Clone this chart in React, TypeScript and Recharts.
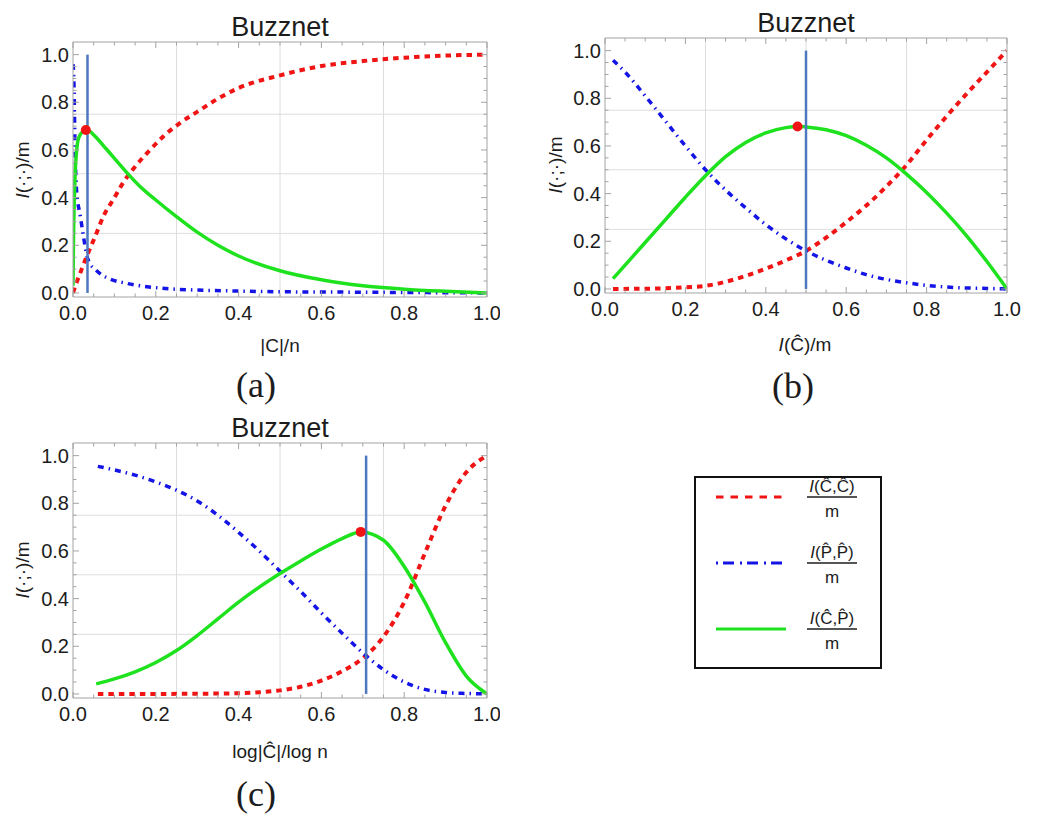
import React from "react";
import { LineChart, Line, XAxis, YAxis, ReferenceLine, ReferenceDot } from "recharts";

// (a) x = |C|/n
const aRedX = [0, 0.01, 0.021, 0.037, 0.053, 0.073, 0.1, 0.12, 0.15, 0.186, 0.22, 0.26, 0.3, 0.35, 0.4, 0.5, 0.6, 0.7, 0.8, 0.9, 1.0];
const aRedY = [0, 0.05, 0.1, 0.17, 0.235, 0.32, 0.4, 0.46, 0.53, 0.6, 0.66, 0.715, 0.76, 0.815, 0.86, 0.913, 0.952, 0.973, 0.987, 0.996, 1.0];
const aBlueX = [0, 0.002, 0.005, 0.009, 0.017, 0.025, 0.033, 0.042, 0.053, 0.07, 0.09, 0.13, 0.2, 0.3, 0.4, 0.5, 0.6, 0.7, 0.8, 0.9, 1.0];
const aBlueY = [0.96, 0.9, 0.6, 0.42, 0.33, 0.24, 0.16, 0.12, 0.1, 0.075, 0.058, 0.04, 0.022, 0.012, 0.008, 0.005, 0.004, 0.003, 0.002, 0.001, 0];
const aGreenX = [0, 0.001, 0.003, 0.005, 0.008, 0.012, 0.018, 0.025, 0.032, 0.045, 0.06, 0.08, 0.1, 0.13, 0.16, 0.2, 0.25, 0.3, 0.35, 0.4, 0.5, 0.6, 0.7, 0.8, 0.9, 1.0];
const aGreenY = [0.03, 0.2, 0.38, 0.5, 0.58, 0.64, 0.665, 0.678, 0.685, 0.672, 0.645, 0.605, 0.565, 0.505, 0.45, 0.39, 0.32, 0.255, 0.2, 0.155, 0.093, 0.055, 0.03, 0.016, 0.007, 0];

// (b) x = I(C^)/m
const bRedX = [0.02, 0.1, 0.15, 0.2, 0.25, 0.3, 0.35, 0.4, 0.45, 0.5, 0.55, 0.6, 0.65, 0.7, 0.75, 0.8, 0.85, 0.9, 0.95, 1.0];
const bRedY = [0, 0.001, 0.003, 0.007, 0.013, 0.03, 0.055, 0.085, 0.12, 0.16, 0.215, 0.28, 0.35, 0.43, 0.52, 0.625, 0.725, 0.82, 0.91, 1.0];
const bBlueX = [0.02, 0.05, 0.1, 0.15, 0.2, 0.25, 0.3, 0.35, 0.4, 0.45, 0.5, 0.55, 0.6, 0.65, 0.7, 0.75, 0.8, 0.85, 0.9, 0.95, 1.0];
const bBlueY = [0.96, 0.91, 0.81, 0.705, 0.6, 0.5, 0.415, 0.34, 0.27, 0.21, 0.16, 0.12, 0.088, 0.06, 0.04, 0.026, 0.015, 0.008, 0.004, 0.002, 0];
const bGreenX = [0.02, 0.05, 0.1, 0.15, 0.2, 0.25, 0.3, 0.35, 0.4, 0.45, 0.48, 0.5, 0.55, 0.6, 0.65, 0.7, 0.75, 0.8, 0.85, 0.9, 0.95, 1.0];
const bGreenY = [0.043, 0.1, 0.195, 0.29, 0.385, 0.475, 0.555, 0.615, 0.655, 0.677, 0.682, 0.68, 0.668, 0.643, 0.603, 0.55, 0.482, 0.405, 0.318, 0.222, 0.115, 0];

// (c) x = log|C^|/log n
const cRedX = [0.06, 0.2, 0.3, 0.4, 0.45, 0.5, 0.55, 0.6, 0.65, 0.7, 0.75, 0.8, 0.85, 0.9, 0.95, 1.0];
const cRedY = [0, 0, 0.001, 0.003, 0.007, 0.015, 0.03, 0.056, 0.095, 0.15, 0.24, 0.385, 0.59, 0.79, 0.93, 1.0];
const cBlueX = [0.06, 0.1, 0.15, 0.2, 0.25, 0.3, 0.35, 0.4, 0.45, 0.5, 0.55, 0.6, 0.65, 0.7, 0.75, 0.8, 0.85, 0.9, 0.95, 1.0];
const cBlueY = [0.955, 0.94, 0.918, 0.89, 0.855, 0.81, 0.75, 0.678, 0.6, 0.515, 0.43, 0.34, 0.255, 0.172, 0.102, 0.05, 0.019, 0.006, 0.002, 0];
const cGreenX = [0.056, 0.1, 0.15, 0.2, 0.25, 0.3, 0.35, 0.4, 0.45, 0.5, 0.55, 0.6, 0.65, 0.695, 0.75, 0.8, 0.85, 0.9, 0.95, 1.0];
const cGreenY = [0.042, 0.063, 0.093, 0.132, 0.182, 0.245, 0.315, 0.385, 0.448, 0.505, 0.558, 0.608, 0.652, 0.68, 0.645, 0.535, 0.385, 0.215, 0.075, 0];

// vertical marker x and red peak dot per panel
const markA = 0.035;
const peakA = { x: 0.031, y: 0.684 };
const markB = 0.5;
const peakB = { x: 0.479, y: 0.682 };
const markC = 0.708;
const peakC = { x: 0.695, y: 0.68 };

const tickValues = [0, 0.05, 0.1, 0.15, 0.2, 0.25, 0.3, 0.35, 0.4, 0.45, 0.5, 0.55, 0.6, 0.65, 0.7, 0.75, 0.8, 0.85, 0.9, 0.95, 1.0];
const gridValues = [0.25, 0.5, 0.75];
const yDomain = [-0.017, 1.053];

const FRAME = "#a3a3a3";
const GRID = "#dedede";
const INK = "#1c1c1c";
const RED = "#f01414";
const BLUE = "#1414e6";
const GREEN = "#1fe21f";
const MARK = "#4d78bf";
const SANS = "'Liberation Sans', Arial, sans-serif";
const SERIF = "'Liberation Serif', 'Times New Roman', serif";

type Pt = { x: number; y: number };
const zip = (xs: number[], ys: number[]): Pt[] => xs.map((x, i) => ({ x, y: ys[i] }));

const isMajor = (v: number) => Math.abs(v * 5 - Math.round(v * 5)) < 1e-6;
const tickLen = (v: number) => (isMajor(v) ? 6 : 3.5);

const BottomTick = ({ x, y, payload }: any) => (
  <g>
    <line x1={x} y1={y} x2={x} y2={y - tickLen(payload.value)} stroke={FRAME} />
    {isMajor(payload.value) && (
      <text x={x} y={y + 23} textAnchor="middle" fontSize={20} fill={INK} fontFamily={SANS}>
        {payload.value.toFixed(1)}
      </text>
    )}
  </g>
);

const TopTick = ({ x, y, payload }: any) => (
  <line x1={x} y1={y} x2={x} y2={y + tickLen(payload.value)} stroke={FRAME} />
);

const LeftTick = ({ x, y, payload }: any) => (
  <g>
    <line x1={x} y1={y} x2={x + tickLen(payload.value)} y2={y} stroke={FRAME} />
    {isMajor(payload.value) && (
      <text x={x - 4} y={y + 7} textAnchor="end" fontSize={20} fill={INK} fontFamily={SANS}>
        {payload.value.toFixed(1)}
      </text>
    )}
  </g>
);

const RightTick = ({ x, y, payload }: any) => (
  <line x1={x} y1={y} x2={x - tickLen(payload.value)} y2={y} stroke={FRAME} />
);

interface PanelProps {
  left: number;
  top: number;
  width: number;
  height: number;
  margin: { top: number; right: number; bottom: number; left: number };
  red: Pt[];
  blue: Pt[];
  green: Pt[];
  markX: number;
  peak: Pt;
}

// axes are 1px thick (a 0 size axis is not drawn), margins are reduced by 1 to compensate
const Panel = ({ left, top, width, height, margin, red, blue, green, markX, peak }: PanelProps) => (
  <div style={{ position: "absolute", left, top }}>
    <LineChart width={width} height={height}
      margin={{ top: margin.top - 1, right: margin.right - 1, bottom: margin.bottom - 1, left: margin.left - 1 }}>
      <XAxis xAxisId="b" dataKey="x" type="number" domain={[0, 1]} allowDataOverflow ticks={tickValues}
        interval={0} tick={BottomTick} tickLine={false} tickSize={0} tickMargin={0} height={1}
        axisLine={{ stroke: FRAME }} />
      <XAxis xAxisId="t" orientation="top" dataKey="x" type="number" domain={[0, 1]} allowDataOverflow
        ticks={tickValues} interval={0} tick={TopTick} tickLine={false} tickSize={0} tickMargin={0} height={1}
        axisLine={{ stroke: FRAME }} />
      <YAxis yAxisId="l" type="number" domain={yDomain} allowDataOverflow ticks={tickValues} interval={0}
        tick={LeftTick} tickLine={false} tickSize={0} tickMargin={0} width={1} axisLine={{ stroke: FRAME }} />
      <YAxis yAxisId="r" orientation="right" type="number" domain={yDomain} allowDataOverflow ticks={tickValues}
        interval={0} tick={RightTick} tickLine={false} tickSize={0} tickMargin={0} width={1}
        axisLine={{ stroke: FRAME }} />

      {gridValues.map((v) => (
        <ReferenceLine key={"gx" + v} xAxisId="b" yAxisId="l" x={v} stroke={GRID} strokeWidth={1} />
      ))}
      {gridValues.map((v) => (
        <ReferenceLine key={"gy" + v} xAxisId="b" yAxisId="l" y={v} stroke={GRID} strokeWidth={1} />
      ))}

      <Line xAxisId="b" yAxisId="l" data={red} dataKey="y" type="monotone" stroke={RED} strokeWidth={4}
        strokeDasharray="5.5 5" dot={false} activeDot={false} isAnimationActive={false} />
      <Line xAxisId="b" yAxisId="l" data={blue} dataKey="y" type="monotone" stroke={BLUE} strokeWidth={3.5}
        strokeDasharray="6 5 1.5 5" dot={false} activeDot={false} isAnimationActive={false} />
      <Line xAxisId="b" yAxisId="l" data={green} dataKey="y" type="monotone" stroke={GREEN} strokeWidth={3.5}
        dot={false} activeDot={false} isAnimationActive={false} />

      <ReferenceLine xAxisId="b" yAxisId="l" segment={[{ x: markX, y: 0 }, { x: markX, y: 1 }]}
        stroke={MARK} strokeWidth={2.5} />
      <ReferenceDot xAxisId="b" yAxisId="l" x={peak.x} y={peak.y} r={5} fill={RED} stroke="none" />
    </LineChart>
  </div>
);

const LegendRow = ({ y, dash, color, width, num }: any) => (
  <g>
    <line x1={716} y1={y} x2={786} y2={y} stroke={color} strokeWidth={width} strokeDasharray={dash} />
    <text x={832} y={y - 5} textAnchor="middle" fontSize={17} fill={INK} fontFamily={SANS}>
      <tspan fontStyle="italic">I</tspan>
      {num}
    </text>
    <line x1={807} y1={y} x2={857} y2={y} stroke={INK} strokeWidth={1.5} />
    <text x={832} y={y + 20} textAnchor="middle" fontSize={17} fill={INK} fontFamily={SANS}>m</text>
  </g>
);

const Texts = () => (
  <svg width={1048} height={814} style={{ position: "absolute", left: 0, top: 0, pointerEvents: "none" }}>
    <g fontFamily={SANS} fill={INK}>
      <text x={280} y={36} textAnchor="middle" fontSize={27}>Buzznet</text>
      <text x={806} y={32} textAnchor="middle" fontSize={27}>Buzznet</text>
      <text x={280} y={437} textAnchor="middle" fontSize={27}>Buzznet</text>

      <text x={280} y={352} textAnchor="middle" fontSize={19}>|C|/n</text>
      <text x={805} y={351} textAnchor="middle" fontSize={19}>
        <tspan fontStyle="italic">I</tspan>(Ĉ)/m
      </text>
      <text x={280} y={758} textAnchor="middle" fontSize={19}>log|Ĉ|/log n</text>

      <text transform="translate(29,170) rotate(-90)" textAnchor="middle" fontSize={19}>
        <tspan fontStyle="italic">I</tspan>(·;·)/m
      </text>
      <text transform="translate(562,165) rotate(-90)" textAnchor="middle" fontSize={19}>
        <tspan fontStyle="italic">I</tspan>(·;·)/m
      </text>
      <text transform="translate(29,570) rotate(-90)" textAnchor="middle" fontSize={19}>
        <tspan fontStyle="italic">I</tspan>(·;·)/m
      </text>
    </g>
    <g fontFamily={SERIF} fill={INK} fontSize={36}>
      <text x={256} y={397} textAnchor="middle">(a)</text>
      <text x={793} y={398} textAnchor="middle">(b)</text>
      <text x={256} y={806} textAnchor="middle">(c)</text>
    </g>
    <rect x={695} y={477} width={186} height={191} fill="none" stroke="#111" strokeWidth={2} />
    <LegendRow y={497} dash="7.5 7" color={RED} width={3} num="(Ĉ,Ĉ)" />
    <LegendRow y={563} dash="2 5 11 6" color={BLUE} width={3} num={"(P\u0302,P\u0302)"} />
    <LegendRow y={629} color={GREEN} width={3} num={"(Ĉ,P\u0302)"} />
  </svg>
);

export default function App() {
  return (
    <div style={{ position: "absolute", left: 0, top: 0, width: 1048, height: 814, background: "#fff" }}>
      <Panel left={0} top={0} width={500} height={330} margin={{ top: 42, right: 13, bottom: 33, left: 73 }}
        red={zip(aRedX, aRedY)} blue={zip(aBlueX, aBlueY)} green={zip(aGreenX, aGreenY)} markX={markA} peak={peakA} />
      <Panel left={510} top={0} width={538} height={330} margin={{ top: 38, right: 41, bottom: 37, left: 95 }}
        red={zip(bRedX, bRedY)} blue={zip(bBlueX, bBlueY)} green={zip(bGreenX, bGreenY)} markX={markB} peak={peakB} />
      <Panel left={0} top={400} width={500} height={330} margin={{ top: 43, right: 13, bottom: 32, left: 73 }}
        red={zip(cRedX, cRedY)} blue={zip(cBlueX, cBlueY)} green={zip(cGreenX, cGreenY)} markX={markC} peak={peakC} />
      <Texts />
    </div>
  );
}
